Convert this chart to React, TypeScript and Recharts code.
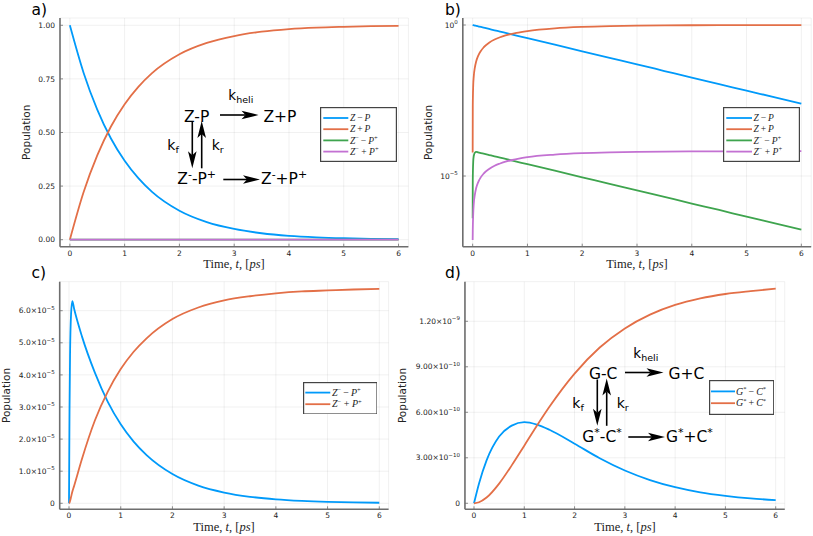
import React from 'react';
import { LineChart, Line, XAxis, YAxis, CartesianGrid, Legend } from 'recharts';

const W = 813;
const H = 536;
const BLUE = '#009AFA';
const RED = '#E36F47';
const GREEN = '#3EA44E';
const PURPLE = '#C371D2';
const AXIS = '#6e6e6e';
const SANS = '"DejaVu Sans", sans-serif';
const SERIF = '"Liberation Serif", "DejaVu Serif", serif';

// ---------- shared ticks ----------
const xTicks = [0, 1, 2, 3, 4, 5, 6];
const aYTicks = [0, 0.25, 0.5, 0.75, 1];
const bYTicks = [1e-5, 1];
const cYTicks = [0, 1e-5, 2e-5, 3e-5, 4e-5, 5e-5, 6e-5];
const dYTicks = [0, 3e-10, 6e-10, 9e-10, 1.2e-9];

// ---------- panel a (linear) ----------
const tA = [0, 0.25, 0.5, 0.75, 1, 1.25, 1.5, 2, 2.5, 3, 3.5, 4, 4.5, 5, 5.5, 6];
const aZP = [1.0, 0.779, 0.607, 0.472, 0.368, 0.287, 0.223, 0.135, 0.082, 0.05, 0.03, 0.018, 0.011, 0.0067, 0.0041, 0.0025];
const aZplusP = [0, 0.221, 0.393, 0.528, 0.632, 0.713, 0.777, 0.865, 0.918, 0.95, 0.97, 0.982, 0.989, 0.993, 0.996, 0.997];
const aZmPp = [0, 5.2e-5, 4.07e-5, 3.16e-5, 2.46e-5, 1.92e-5, 1.5e-5, 9.1e-6, 5.5e-6, 3.35e-6, 2.0e-6, 1.2e-6, 7.5e-7, 4.5e-7, 2.8e-7, 1.7e-7];
const aZmplusPp = [0, 1.4e-5, 2.6e-5, 3.5e-5, 4.2e-5, 4.72e-5, 5.13e-5, 5.73e-5, 6.09e-5, 6.31e-5, 6.44e-5, 6.52e-5, 6.58e-5, 6.62e-5, 6.65e-5, 6.67e-5];

// ---------- panel b (log) ----------
const tB = [0.00006, 0.002, 0.01, 0.02, 0.04, 0.064, 0.1, 0.15, 0.2, 0.3, 0.4, 0.5, 0.6, 0.8, 1, 1.5, 2, 2.5, 3, 3.5, 4, 4.5, 5, 5.5, 6];
const bZP = [1.0, 0.998, 0.99, 0.98, 0.961, 0.938, 0.905, 0.861, 0.819, 0.741, 0.67, 0.607, 0.549, 0.449, 0.368, 0.223, 0.135, 0.082, 0.05, 0.03, 0.018, 0.011, 0.0067, 0.0041, 0.0025];
const bZplusP = [6e-5, 0.002, 0.0099, 0.0198, 0.039, 0.062, 0.095, 0.139, 0.181, 0.259, 0.33, 0.393, 0.451, 0.551, 0.632, 0.777, 0.865, 0.918, 0.95, 0.97, 0.982, 0.989, 0.993, 0.996, 0.997];
const bZmPp = [4e-7, 7e-6, 2.9e-5, 4.6e-5, 5.9e-5, 6.3e-5, 6.05e-5, 5.75e-5, 5.47e-5, 4.95e-5, 4.48e-5, 4.07e-5, 3.68e-5, 3.01e-5, 2.46e-5, 1.5e-5, 9.1e-6, 5.5e-6, 3.35e-6, 2.03e-6, 1.23e-6, 7.5e-7, 4.5e-7, 2.75e-7, 1.67e-7];
const bZmplusPp = [7.6e-8, 1.5e-7, 5.5e-7, 1.2e-6, 2.4e-6, 4.0e-6, 6.2e-6, 9.2e-6, 1.2e-5, 1.7e-5, 2.2e-5, 2.6e-5, 3.0e-5, 3.6e-5, 4.2e-5, 5.13e-5, 5.73e-5, 6.09e-5, 6.31e-5, 6.44e-5, 6.52e-5, 6.58e-5, 6.62e-5, 6.65e-5, 6.67e-5];

// ---------- panel c ----------
const tC = [0, 0.01, 0.02, 0.04, 0.064, 0.1, 0.25, 0.5, 0.75, 1, 1.25, 1.5, 2, 2.5, 3, 3.5, 4, 4.5, 5, 5.5, 6];
const cZmPp = [0, 2.9e-5, 4.6e-5, 5.9e-5, 6.3e-5, 6.05e-5, 5.2e-5, 4.07e-5, 3.16e-5, 2.46e-5, 1.92e-5, 1.5e-5, 9.1e-6, 5.5e-6, 3.35e-6, 2.03e-6, 1.23e-6, 7.5e-7, 4.5e-7, 2.75e-7, 1.67e-7];
const cZmplusPp = [0, 2e-7, 7e-7, 2e-6, 3.6e-6, 5.5e-6, 1.38e-5, 2.58e-5, 3.48e-5, 4.18e-5, 4.72e-5, 5.14e-5, 5.74e-5, 6.1e-5, 6.32e-5, 6.45e-5, 6.54e-5, 6.6e-5, 6.63e-5, 6.66e-5, 6.68e-5];

// ---------- panel d ----------
const tD = [0, 0.1, 0.25, 0.5, 0.75, 1, 1.25, 1.5, 2, 2.5, 3, 3.5, 4, 4.5, 5, 5.5, 6];
const dGC = [0, 1.31e-10, 2.83e-10, 4.4e-10, 5.12e-10, 5.35e-10, 5.19e-10, 4.85e-10, 3.93e-10, 2.97e-10, 2.16e-10, 1.53e-10, 1.06e-10, 7.2e-11, 4.9e-11, 3.2e-11, 2.1e-11];
const dGplusC = [0, 7e-12, 3.8e-11, 1.3e-10, 2.5e-10, 3.8e-10, 5.11e-10, 6.36e-10, 8.55e-10, 1.027e-9, 1.153e-9, 1.244e-9, 1.308e-9, 1.351e-9, 1.38e-9, 1.399e-9, 1.415e-9];

function zip(t: number[], cols: Record<string, number[]>) {
  return t.map((tt, i) => {
    const r: any = { t: tt };
    for (const k of Object.keys(cols)) r[k] = cols[k][i];
    return r;
  });
}

const dataA = zip(tA, { zp: aZP, zplusp: aZplusP, zmpp: aZmPp, zmpluspp: aZmplusPp });
const dataB = zip(tB, { zp: bZP, zplusp: bZplusP, zmpp: bZmPp, zmpluspp: bZmplusPp });
const dataC = zip(tC, { zmpp: cZmPp, zmpluspp: cZmplusPp });
const dataD = zip(tD, { gc: dGC, gplusc: dGplusC });

// ---------- ticks ----------
function fmtParts(v: number, kind: string): [string, string | null] {
  if (kind === 'lin2') return [v.toFixed(2), null];
  if (kind === 'log') {
    const e = Math.round(Math.log10(v));
    return ['10', e < 0 ? '\u2212' + -e : String(e)];
  }
  if (v === 0) return ['0', null];
  const e = Math.floor(Math.log10(v) + 1e-9);
  const m = v / Math.pow(10, e);
  return [m.toFixed(kind === 'sci1' ? 1 : 2) + '\u00d710', e < 0 ? '\u2212' + -e : String(e)];
}

const XTick = (p: any) => {
  const { x, y, payload } = p;
  return (
    <g>
      <line x1={x} x2={x} y1={y} y2={y - 3} stroke={AXIS} strokeWidth={0.8} />
      <text x={x} y={y + 8.8} textAnchor="middle" fontSize={7.5} fontFamily={SANS} fill="#222">
        {payload.value}
      </text>
    </g>
  );
};

const makeYTick = (kind: string) => (p: any) => {
  const { x, y, payload } = p;
  const [base, sup] = fmtParts(payload.value, kind);
  return (
    <g>
      <line x1={x} x2={x + 3} y1={y} y2={y} stroke={AXIS} strokeWidth={0.8} />
      <text x={x - 5} y={y + 2.7} textAnchor="end" fontSize={7.5} fontFamily={SANS} fill="#222">
        {base}
        {sup !== null && (
          <tspan dy={-3.5} fontSize={5.5}>
            {sup}
          </tspan>
        )}
      </text>
    </g>
  );
};

// ---------- legend labels ----------
const it = (s: string) => <tspan fontStyle="italic">{s}</tspan>;
const sup = (s: string, fs = 6.5) => (
  <tspan dy={-3.5} fontSize={fs}>
    {s}
  </tspan>
);
const down = (s: string) => <tspan dy={3.5}>{s}</tspan>;

const LABELS: Record<string, React.ReactNode> = {
  zp: (
    <>
      {it('Z')}
      {'\u2009\u2212\u2009'}
      {it('P')}
    </>
  ),
  zplusp: (
    <>
      {it('Z')}
      {'\u2009+\u2009'}
      {it('P')}
    </>
  ),
  zmpp: (
    <>
      {it('Z')}
      {sup('\u2212')}
      {down('\u2009\u2212\u2009')}
      {it('P')}
      {sup('+')}
    </>
  ),
  zmpluspp: (
    <>
      {it('Z')}
      {sup('\u2212')}
      {down(' + ')}
      {it('P')}
      {sup('+')}
    </>
  ),
  gc: (
    <>
      {it('G')}
      {sup('*')}
      {down('\u2009\u2212\u2009')}
      {it('C')}
      {sup('*')}
    </>
  ),
  gplusc: (
    <>
      {it('G')}
      {sup('*')}
      {down('\u2009+\u2009')}
      {it('C')}
      {sup('*')}
    </>
  ),
};

type LegendCfg = { left: number; top: number; w: number; h: number; y0: number; dy: number; lx0: number; lx1: number; tx: number; fs: number; order: string[] };

const makeLegend = (cfg: LegendCfg) => (props: any) => {
  const payload = [...(props.payload || [])].sort(
    (a: any, b: any) => cfg.order.indexOf(String(a.dataKey)) - cfg.order.indexOf(String(b.dataKey))
  );
  return (
    <svg width={cfg.w} height={cfg.h} style={{ display: 'block' }}>
      <rect x={0.6} y={0.6} width={cfg.w - 1.2} height={cfg.h - 1.2} fill="#fff" stroke="#444" strokeWidth={1.2} />
      {payload.map((e: any, i: number) => {
        const yy = cfg.y0 + i * cfg.dy;
        return (
          <g key={i}>
            <line x1={cfg.lx0} x2={cfg.lx1} y1={yy} y2={yy} stroke={e.color} strokeWidth={1.8} />
            <text x={cfg.tx} y={yy + 3.2} fontFamily={SERIF} fontSize={cfg.fs} fill="#222">
              {LABELS[String(e.dataKey)]}
            </text>
          </g>
        );
      })}
    </svg>
  );
};

type Series = { key: string; color: string };

function Panel(props: {
  data: any[];
  margin: { top: number; right: number; bottom: number; left: number };
  yDomain: [number, number];
  yTicks: number[];
  yKind: string;
  yScale?: 'log' | 'linear';
  series: Series[];
  legend: LegendCfg;
}) {
  const { data, margin, yDomain, yTicks, yKind, yScale, series, legend } = props;
  return (
    <div style={{ position: 'absolute', left: 0, top: 0 }}>
      <LineChart width={W} height={H} data={data} margin={margin}>
        <CartesianGrid stroke="#000" strokeOpacity={0.1} strokeWidth={0.6} />
        <XAxis
          dataKey="t"
          type="number"
          domain={[-0.18, 6.18]}
          ticks={xTicks}
          interval={0}
          allowDataOverflow
          axisLine={{ stroke: AXIS, strokeWidth: 1.6 }}
          tickLine={false}
          tickSize={0}
          tickMargin={0}
          height={20}
          tick={XTick}
        />
        <YAxis
          type="number"
          scale={yScale || 'linear'}
          domain={yDomain}
          ticks={yTicks}
          interval={0}
          allowDataOverflow
          axisLine={{ stroke: AXIS, strokeWidth: 1.6 }}
          tickLine={false}
          tickSize={0}
          tickMargin={0}
          width={40}
          tick={makeYTick(yKind)}
        />
        {series.map((s) => (
          <Line
            key={s.key}
            dataKey={s.key}
            name={s.key}
            stroke={s.color}
            strokeWidth={1.8}
            dot={false}
            activeDot={false}
            type="monotone"
            isAnimationActive={false}
          />
        ))}
        <Legend
          layout="vertical"
          align="center"
          verticalAlign="middle"
          width={legend.w}
          height={legend.h}
          wrapperStyle={{ left: legend.left, top: legend.top, width: legend.w, height: legend.h, margin: 0, padding: 0, lineHeight: 0 }}
          content={makeLegend(legend)}
        />
      </LineChart>
    </div>
  );
}

// ---------- annotations ----------
function Arrow({ x1, y1, x2, y2 }: { x1: number; y1: number; x2: number; y2: number }) {
  const dx = x2 - x1;
  const dy = y2 - y1;
  const len = Math.hypot(dx, dy);
  const ux = dx / len;
  const uy = dy / len;
  const px = -uy;
  const py = ux;
  const L = 17;
  const Wd = 4.3;
  const N = 4;
  const bx = x2 - ux * L;
  const by = y2 - uy * L;
  const nx = x2 - ux * (L - N);
  const ny = y2 - uy * (L - N);
  const pts = [
    [x2, y2],
    [bx + px * Wd, by + py * Wd],
    [nx, ny],
    [bx - px * Wd, by - py * Wd],
  ]
    .map((p) => p.join(','))
    .join(' ');
  return (
    <g>
      <line x1={x1} y1={y1} x2={nx} y2={ny} stroke="#000" strokeWidth={1.6} />
      <polygon points={pts} fill="#000" />
    </g>
  );
}

const SP = 15.5;
const SUPF = 11;
const ss = (s: string) => (
  <tspan dy={-6} fontSize={SUPF}>
    {s}
  </tspan>
);
const bs = (s: string) => <tspan dy={6}>{s}</tspan>;

function Diagram({ ox, oy, nodes }: { ox: number; oy: number; nodes: React.ReactNode[] }) {
  const T = (x: number, y: number, fs: number, c: React.ReactNode) => (
    <text x={x + ox} y={y + oy} fontFamily={SANS} fontSize={fs} fill="#000">
      {c}
    </text>
  );
  const K = (x: number, y: number, s: string, fs: number) => (
    <text x={x + ox} y={y + oy} fontFamily={SANS} fontSize={fs} fill="#000">
      k
      <tspan dy={3} fontSize={9.5}>
        {s}
      </tspan>
    </text>
  );
  return (
    <g>
      {K(228.3, 100, 'heli', 13.5)}
      {T(184, 121.5, SP, nodes[0])}
      <Arrow x1={220 + ox} y1={115 + oy} x2={258.5 + ox} y2={115 + oy} />
      {T(263.5, 121.5, SP, nodes[1])}
      <Arrow x1={192.3 + ox} y1={122 + oy} x2={192.3 + ox} y2={168.3 + oy} />
      <Arrow x1={201.7 + ox} y1={168.3 + oy} x2={201.7 + ox} y2={121 + oy} />
      {K(167.3, 150, 'f', 14)}
      {K(211.7, 150, 'r', 14)}
      {T(177.3, 184.3, SP, nodes[2])}
      <Arrow x1={223.3 + ox} y1={179.5 + oy} x2={260 + ox} y2={179.5 + oy} />
      {T(261, 184.3, SP, nodes[3])}
    </g>
  );
}

const XTitle = ({ cx, y }: { cx: number; y: number }) => (
  <text x={cx} y={y} textAnchor="middle" fontFamily={SERIF} fontSize={12.5} fill="#222">
    Time, <tspan fontStyle="italic">t</tspan>, [<tspan fontStyle="italic">ps</tspan>]
  </text>
);
const YTitle = ({ x, cy }: { x: number; cy: number }) => (
  <text x={x} y={cy} transform={`rotate(-90 ${x} ${cy})`} textAnchor="middle" dominantBaseline="central" fontFamily={SANS} fontSize={10.5} fill="#222">
    Population
  </text>
);
const PLabel = ({ x, y, s }: { x: number; y: number; s: string }) => (
  <text x={x} y={y} fontFamily={SANS} fontSize={15.5} fill="#000">
    {s}
  </text>
);

const ORDER_AB = ['zp', 'zplusp', 'zmpp', 'zmpluspp'];
const ORDER_C = ['zmpp', 'zmpluspp'];
const ORDER_D = ['gc', 'gplusc'];

export default function App() {
  const legendA: LegendCfg = { left: 320, top: 106.7, w: 77, h: 55, y0: 11, dy: 11.2, lx0: 3.3, lx1: 28.3, tx: 30, fs: 9.5, order: ORDER_AB };
  const legendB: LegendCfg = { left: 722.7, top: 107, w: 77, h: 55, y0: 11, dy: 11.2, lx0: 3.3, lx1: 29, tx: 30.5, fs: 9.5, order: ORDER_AB };
  const legendC: LegendCfg = { left: 302.7, top: 381.7, w: 74.6, h: 32.6, y0: 10.6, dy: 11.6, lx0: 2.3, lx1: 27.3, tx: 29, fs: 10, order: ORDER_C };
  const legendD: LegendCfg = { left: 709, top: 380, w: 65.3, h: 35, y0: 11.4, dy: 11.8, lx0: 2, lx1: 26, tx: 27, fs: 10, order: ORDER_D };

  return (
    <div style={{ position: 'absolute', left: 0, top: 0, width: W, height: H, background: '#fff', overflow: 'hidden' }}>
      <Panel
        data={dataA}
        margin={{ left: 20, right: 404.6, top: 18, bottom: 269.3 }}
        yDomain={[-0.0327, 1.034]}
        yTicks={aYTicks}
        yKind="lin2"
        series={[
          { key: 'zp', color: BLUE },
          { key: 'zplusp', color: RED },
          { key: 'zmpp', color: GREEN },
          { key: 'zmpluspp', color: PURPLE },
        ]}
        legend={legendA}
      />
      <Panel
        data={dataB}
        margin={{ left: 422.8, right: 1.8, top: 18, bottom: 269.3 }}
        yDomain={[4.57e-8, 1.706]}
        yTicks={bYTicks}
        yKind="log"
        yScale="log"
        series={[
          { key: 'zp', color: BLUE },
          { key: 'zplusp', color: RED },
          { key: 'zmpp', color: GREEN },
          { key: 'zmpluspp', color: PURPLE },
        ]}
        legend={legendB}
      />
      <Panel
        data={dataC}
        margin={{ left: 19.7, right: 424.4, top: 281.7, bottom: 6.7 }}
        yDomain={[-0.187e-5, 6.903e-5]}
        yTicks={cYTicks}
        yKind="sci1"
        series={[
          { key: 'zmpp', color: BLUE },
          { key: 'zmpluspp', color: RED },
        ]}
        legend={legendC}
      />
      <Panel
        data={dataD}
        margin={{ left: 424.95, right: 28.25, top: 281.7, bottom: 6.7 }}
        yDomain={[-0.0396e-9, 1.461e-9]}
        yTicks={dYTicks}
        yKind="sci2"
        series={[
          { key: 'gc', color: BLUE },
          { key: 'gplusc', color: RED },
        ]}
        legend={legendD}
      />
      <svg width={W} height={H} style={{ position: 'absolute', left: 0, top: 0, pointerEvents: 'none' }}>
        <PLabel x={31.5} y={14.7} s="a)" />
        <PLabel x={445} y={14.7} s="b)" />
        <PLabel x={31.5} y={277.5} s="c)" />
        <PLabel x={445} y={277.5} s="d)" />
        <XTitle cx={234} y={267.5} />
        <XTitle cx={637} y={267.5} />
        <XTitle cx={224} y={531} />
        <XTitle cx={625} y={531} />
        <YTitle x={26} cy={132.3} />
        <YTitle x={428} cy={132.3} />
        <YTitle x={6} cy={395.5} />
        <YTitle x={402} cy={395.5} />
        <Diagram
          ox={0}
          oy={0}
          nodes={[
            'Z-P',
            'Z+P',
            <>
              Z{ss('-')}
              {bs('-P')}
              {ss('+')}
            </>,
            <>
              Z{ss('-')}
              {bs('+P')}
              {ss('+')}
            </>,
          ]}
        />
        <Diagram
          ox={405}
          oy={257.5}
          nodes={[
            'G-C',
            'G+C',
            <>
              G{ss('*')}
              {bs('-C')}
              {ss('*')}
            </>,
            <>
              G{ss('*')}
              {bs('+C')}
              {ss('*')}
            </>,
          ]}
        />
      </svg>
    </div>
  );
}
